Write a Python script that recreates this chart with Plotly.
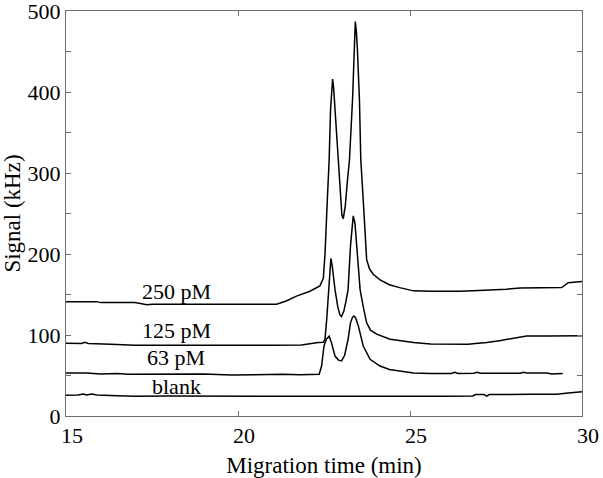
import plotly.graph_objects as go

# ---- data ----
t_250 = [15.0, 15.9, 16.0, 17.0, 17.2, 17.35, 17.5, 18.5, 19.5, 20.5, 21.12, 21.4, 21.7, 22.09, 22.38,
         22.48, 22.53, 22.6, 22.65, 22.69, 22.73, 22.75, 22.78, 22.82, 22.9, 22.97, 23.02, 23.06, 23.12,
         23.18, 23.24, 23.33, 23.37, 23.41, 23.44, 23.47, 23.53, 23.57, 23.64, 23.74, 23.82, 23.93, 24.13,
         24.4, 24.7, 25.1, 25.6, 26.1, 26.45, 27.0, 27.4, 27.8, 28.2, 28.78, 29.41, 29.6, 29.8, 30.0]
v_250 = [141.2, 141.2, 140, 140, 138.5, 137.5, 138, 137.9, 137.8, 137.8, 138, 142, 148, 154, 160.5,
         170, 200, 270, 316, 378, 410, 416, 405, 378, 316, 270, 248, 243.5, 260,
         290, 316, 391, 453, 487, 475, 453, 391, 316, 267, 193, 182, 175, 168,
         162, 158.5, 154.5, 154, 153.5, 154, 155, 155.5, 156.5, 158, 158.5, 158.5, 164.5, 165, 166]

t_125 = [15.0, 15.45, 15.55, 15.65, 16.3, 17.0, 18.0, 19.0, 20.0, 21.0, 21.85, 22.1, 22.33, 22.48, 22.53,
         22.58, 22.63, 22.67, 22.7, 22.74, 22.82, 22.9, 22.96, 23.01, 23.08, 23.14, 23.2, 23.27, 23.32,
         23.35, 23.4, 23.47, 23.55, 23.64, 23.74, 23.85, 24.03, 24.42, 24.71, 25.1, 25.6, 26.26, 26.7,
         26.9, 27.23, 27.6, 28.0, 28.39, 29.0, 29.5, 30.0]
v_125 = [89.7, 89.5, 91, 89.5, 88.5, 87.5, 87.5, 87.3, 87.5, 87.5, 87.7, 89.5, 90.6, 91, 95,
         120, 156, 185, 194.5, 185, 156, 135, 125, 122.7, 130, 142, 156, 210, 240,
         247, 238, 200, 156, 135, 115, 106, 101, 94.7, 92.6, 90.6, 89, 88.3, 88.5,
         89.5, 90.6, 93, 95.5, 98.8, 98.8, 98.5, 99]

t_63 = [15.0, 15.6, 16.0, 16.5, 16.8, 17.5, 18.5, 19.0, 19.8, 20.5, 21.3, 21.8, 22.36, 22.43, 22.5,
        22.57, 22.65, 22.72, 22.82, 22.92, 23.01, 23.1, 23.2, 23.27, 23.33, 23.37, 23.42, 23.5, 23.64,
        23.84, 24.13, 24.4, 24.71, 25.1, 25.6, 26.2, 26.3, 26.4, 26.85, 26.95, 27.05, 28.2, 28.3, 28.4,
        29.0, 29.1, 29.44]
v_63 = [53, 53, 52, 52.5, 51.5, 51.5, 51.5, 52, 50.5, 51, 51.5, 51, 51.5, 61.7, 86.4,
        95, 98.5, 90, 74, 69, 68, 75, 94.7, 115, 122, 123.5, 121, 111, 86.4,
        70, 61.7, 57.5, 55.5, 53, 52.5, 52.5, 54, 52.5, 52.7, 54, 52.7, 52.7, 54, 53,
        53, 52, 52.5]

t_blank = [15.0, 15.35, 15.5, 15.6, 15.75, 15.9, 16.5, 17.0, 18.0, 19.0, 20.0, 22.0, 24.0, 26.0, 26.83,
           26.9, 27.15, 27.23, 27.3, 28.5, 29.26, 29.6, 30.0]
v_blank = [25.5, 25.8, 27, 26, 27, 26, 25, 24.5, 24.7, 24.5, 24.3, 24.2, 24.3, 24.5, 24.7,
           26.5, 26.5, 24.5, 26.5, 26.7, 27, 28.5, 30]

series_names = ["250 pM", "125 pM", "63 pM", "blank"]
label_x = [18.2, 18.2, 18.2, 18.2]
label_y = [154, 105, 72, 37]

x_ticks = [15, 20, 25, 30]
y_ticks = [0, 50, 100, 150, 200, 250, 300, 350, 400, 450, 500]
y_ticktext = ["0", "", "100", "", "200", "", "300", "", "400", "", "500"]

FONT = "Liberation Serif, Times New Roman, serif"
AX = "#6e6e6e"

fig = go.Figure()
for tx, vy, nm in [(t_250, v_250, series_names[0]), (t_125, v_125, series_names[1]),
                   (t_63, v_63, series_names[2]), (t_blank, v_blank, series_names[3])]:
    fig.add_trace(go.Scatter(x=tx, y=vy, mode="lines", name=nm,
                             line=dict(color="black", width=1.5), showlegend=False))

for nm, lx, ly in zip(series_names, label_x, label_y):
    fig.add_annotation(x=lx, y=ly, text=nm, showarrow=False,
                       font=dict(family=FONT, size=22, color="black"))

fig.update_layout(
    width=603, height=478,
    margin=dict(l=66, r=21, t=11, b=62),
    paper_bgcolor="white", plot_bgcolor="white",
    font=dict(family=FONT, size=22, color="black"),
    xaxis=dict(range=[15, 30], tickvals=x_ticks, ticks="inside", ticklen=5, tickcolor=AX,
               showline=True, linecolor=AX, linewidth=1, mirror="allticks", showgrid=False,
               zeroline=False, ticklabelshift=6, automargin=False, ticklabeloverflow="allow",
               tickfont=dict(family=FONT, size=22),
               title=dict(text="Migration time (min)", font=dict(family=FONT, size=23))),
    yaxis=dict(range=[0, 500], tickvals=y_ticks, ticktext=y_ticktext, ticks="inside", ticklen=5,
               tickcolor=AX, showline=True, linecolor=AX, linewidth=1, mirror="allticks",
               showgrid=False, zeroline=False, automargin=False, ticklabeloverflow="allow",
               tickfont=dict(family=FONT, size=22),
               title=dict(text="Signal (kHz)", font=dict(family=FONT, size=23))),
)

fig.write_html("out.html", config={"displayModeBar": False},
               post_script="document.body.style.margin='0';")
